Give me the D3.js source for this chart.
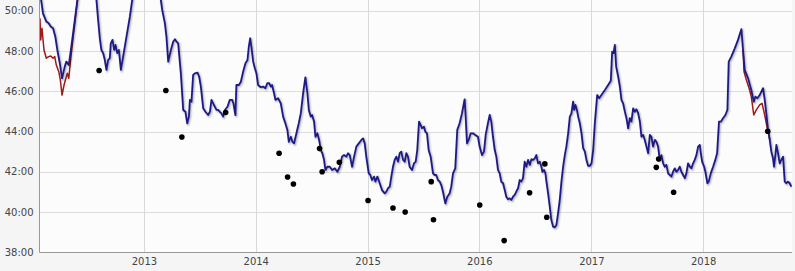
<!DOCTYPE html>
<html><head><meta charset="utf-8">
<script src="https://cdn.jsdelivr.net/npm/d3@7"></script>
<style>html,body{margin:0;padding:0;background:#f5f5f5;}svg{display:block;}</style>
</head><body><div id="chart"></div>
<script>
// decimal year, minutes
const bluePredicted = [
[2012.072,50.93],[2012.099,49.87],[2012.129,49.46],[2012.150,49.38],[2012.168,49.21],[2012.189,49.13],[2012.209,48.71],[2012.227,48.05],[2012.249,47.40],[2012.269,46.64],
[2012.293,47.22],[2012.307,47.47],[2012.329,47.30],[2012.352,48.21],[2012.383,49.54],[2012.406,50.53],[2012.484,52.77],[2012.576,50.53],[2012.591,49.54],[2012.606,48.63],
[2012.620,48.05],[2012.636,47.89],[2012.651,47.55],[2012.665,47.06],[2012.680,47.55],[2012.695,47.64],[2012.704,48.38],[2012.719,48.55],[2012.734,48.05],[2012.746,48.30],
[2012.761,47.89],[2012.776,48.05],[2012.794,47.06],[2012.814,47.72],[2012.844,48.71],[2012.874,49.70],[2012.895,50.53],[2013.020,53.02],[2013.151,50.53],[2013.163,50.04],
[2013.187,49.38],[2013.201,48.71],[2013.217,47.47],[2013.241,48.05],[2013.261,48.46],[2013.277,48.58],[2013.291,48.46],[2013.306,48.38],[2013.330,46.89],[2013.351,45.07],
[2013.371,44.98],[2013.387,44.41],[2013.402,44.74],[2013.411,45.57],[2013.425,45.48],[2013.440,46.81],[2013.455,46.89],[2013.479,46.92],[2013.494,46.72],[2013.509,46.23],
[2013.530,45.15],[2013.550,44.98],[2013.574,44.82],[2013.590,44.98],[2013.604,45.57],[2013.619,45.40],[2013.634,45.23],[2013.649,45.07],[2013.664,45.07],[2013.679,44.98],
[2013.693,44.90],[2013.708,44.74],[2013.724,45.07],[2013.747,45.23],[2013.768,45.57],[2013.789,45.57],[2013.800,45.40],[2013.818,44.82],[2013.827,46.31],[2013.849,46.31],
[2013.867,46.47],[2013.887,46.97],[2013.908,47.39],[2013.926,47.55],[2013.938,48.21],[2013.950,48.63],[2013.961,48.21],[2013.977,47.47],[2013.992,47.14],[2014.006,46.89],
[2014.021,46.31],[2014.045,46.20],[2014.066,46.23],[2014.086,46.15],[2014.104,46.40],[2014.120,46.40],[2014.135,46.23],[2014.146,46.31],[2014.164,45.90],[2014.176,45.57],
[2014.200,45.65],[2014.224,45.40],[2014.245,44.74],[2014.265,44.41],[2014.283,44.08],[2014.296,43.49],[2014.314,43.74],[2014.328,43.49],[2014.343,43.41],[2014.364,43.91],
[2014.385,44.41],[2014.403,44.90],[2014.424,45.90],[2014.444,46.69],[2014.462,45.90],[2014.475,45.07],[2014.492,44.74],[2014.504,44.82],[2014.522,44.49],[2014.534,43.74],
[2014.551,43.91],[2014.567,43.58],[2014.582,43.08],[2014.596,42.92],[2014.611,42.59],[2014.623,42.09],[2014.641,42.25],[2014.662,42.25],[2014.683,42.09],[2014.707,42.17],
[2014.730,42.00],[2014.752,42.25],[2014.772,42.75],[2014.790,42.83],[2014.811,42.75],[2014.826,42.92],[2014.841,42.83],[2014.862,42.25],[2014.880,42.75],[2014.900,43.25],
[2014.922,43.41],[2014.945,43.58],[2014.960,43.66],[2014.975,43.41],[2014.989,42.75],[2015.011,41.92],[2015.025,41.84],[2015.040,41.59],[2015.058,41.76],[2015.070,41.51],
[2015.088,41.76],[2015.109,41.43],[2015.130,41.09],[2015.154,40.93],[2015.168,41.01],[2015.183,41.18],[2015.199,41.26],[2015.213,41.76],[2015.228,42.25],[2015.243,42.59],
[2015.258,42.75],[2015.273,42.50],[2015.288,42.92],[2015.302,43.00],[2015.318,42.59],[2015.333,42.50],[2015.347,42.92],[2015.362,42.75],[2015.377,42.25],[2015.398,42.09],
[2015.416,42.42],[2015.431,42.50],[2015.445,43.08],[2015.461,44.49],[2015.476,44.32],[2015.487,44.16],[2015.505,44.24],[2015.517,43.99],[2015.532,43.91],[2015.547,43.08],
[2015.565,42.75],[2015.586,41.92],[2015.601,41.84],[2015.615,41.84],[2015.630,41.59],[2015.646,41.51],[2015.660,41.34],[2015.675,41.01],[2015.696,40.43],[2015.714,40.76],
[2015.735,40.93],[2015.749,41.26],[2015.765,41.92],[2015.785,42.17],[2015.803,44.08],[2015.824,44.41],[2015.845,44.90],[2015.869,45.60],[2015.878,44.74],[2015.890,43.41],
[2015.905,43.58],[2015.923,43.91],[2015.943,43.91],[2015.964,43.83],[2015.988,43.74],[2016.003,43.25],[2016.024,42.83],[2016.042,43.00],[2016.057,43.83],[2016.077,44.41],
[2016.093,44.82],[2016.107,44.49],[2016.122,43.74],[2016.138,43.08],[2016.152,42.75],[2016.167,42.09],[2016.182,41.92],[2016.196,41.51],[2016.212,41.43],[2016.227,41.09],
[2016.241,40.76],[2016.256,40.63],[2016.271,40.68],[2016.286,40.60],[2016.301,40.76],[2016.316,40.85],[2016.330,41.01],[2016.346,41.18],[2016.361,41.59],[2016.375,41.51],
[2016.390,41.68],[2016.405,42.50],[2016.420,42.25],[2016.435,42.59],[2016.450,42.34],[2016.465,42.62],[2016.480,42.59],[2016.495,42.67],[2016.509,42.83],[2016.524,42.42],
[2016.540,42.50],[2016.554,42.25],[2016.563,42.00],[2016.578,42.09],[2016.590,41.92],[2016.599,41.51],[2016.614,40.93],[2016.629,40.26],[2016.643,39.60],[2016.659,39.27],
[2016.674,39.24],[2016.688,39.36],[2016.703,39.94],[2016.718,40.60],[2016.733,41.51],[2016.748,42.25],[2016.763,42.83],[2016.777,43.25],[2016.793,43.91],[2016.808,44.74],
[2016.822,44.90],[2016.837,45.48],[2016.846,45.07],[2016.858,45.32],[2016.871,45.07],[2016.882,44.74],[2016.897,44.41],[2016.912,43.91],[2016.927,43.17],[2016.942,43.00],
[2016.956,42.59],[2016.971,42.30],[2016.987,42.30],[2017.001,42.42],[2017.016,43.08],[2017.031,44.41],[2017.052,45.81],[2017.070,45.65],[2017.090,45.81],[2017.121,46.06],
[2017.150,46.31],[2017.174,46.52],[2017.186,47.96],[2017.198,47.89],[2017.210,48.30],[2017.222,47.22],[2017.240,46.72],[2017.255,46.23],[2017.269,45.57],[2017.284,45.40],
[2017.300,44.98],[2017.314,44.66],[2017.329,44.16],[2017.344,44.66],[2017.358,44.49],[2017.374,45.15],[2017.389,44.98],[2017.403,45.10],[2017.418,44.92],[2017.434,44.49],
[2017.448,43.74],[2017.463,43.83],[2017.478,43.58],[2017.493,43.25],[2017.508,42.92],[2017.523,43.83],[2017.537,43.74],[2017.552,43.25],[2017.568,43.58],[2017.582,43.49],
[2017.597,43.25],[2017.612,42.59],[2017.627,42.83],[2017.642,42.42],[2017.657,42.25],[2017.671,42.34],[2017.687,41.92],[2017.702,41.84],[2017.716,41.76],[2017.731,42.00],
[2017.746,42.17],[2017.761,42.00],[2017.776,42.09],[2017.791,42.25],[2017.805,42.00],[2017.821,41.84],[2017.836,41.68],[2017.850,41.92],[2017.865,42.42],[2017.881,42.25],
[2017.895,42.17],[2017.910,42.42],[2017.925,42.59],[2017.940,42.83],[2017.955,43.25],[2017.970,43.33],[2017.979,42.92],[2017.991,42.50],[2018.009,42.25],[2018.020,42.00],
[2018.038,41.43],[2018.050,41.51],[2018.068,41.92],[2018.089,42.25],[2018.109,42.59],[2018.125,42.92],[2018.142,44.49],[2018.158,44.49],[2018.178,44.66],[2018.199,44.82],
[2018.217,45.07],[2018.229,47.47],[2018.252,47.72],[2018.283,48.13],[2018.312,48.55],[2018.342,49.08],[2018.357,48.05],[2018.372,47.06],[2018.402,46.64],[2018.431,46.06],
[2018.453,45.48],[2018.467,45.73],[2018.485,45.65],[2018.506,45.81],[2018.536,46.15],[2018.551,45.57],[2018.565,44.90],[2018.581,44.08],[2018.596,43.58],[2018.610,43.00],
[2018.625,42.67],[2018.634,42.25],[2018.646,42.83],[2018.655,43.33],[2018.670,42.92],[2018.685,42.42],[2018.699,42.59],[2018.715,42.75],[2018.730,41.51],[2018.744,41.43],
[2018.759,41.51],[2018.774,41.43],[2018.789,41.26]
];
const redEarly = [
[2012.072,49.62],[2012.079,48.55],[2012.090,49.13],[2012.108,48.05],[2012.129,47.64],[2012.150,47.72],[2012.168,47.75],[2012.189,47.64],[2012.204,47.72],[2012.218,47.30],
[2012.240,46.97],[2012.254,46.56],[2012.269,45.81],[2012.287,46.31],[2012.299,46.56],[2012.316,46.89],[2012.329,46.64],[2012.347,47.64],[2012.367,48.63],[2012.388,49.62],[2012.406,50.53]
];
const redLate = [
[2018.357,48.05],[2018.366,46.97],[2018.387,46.56],[2018.411,46.15],[2018.431,45.73],[2018.453,44.82],[2018.476,45.07],[2018.506,45.32],[2018.527,45.40],[2018.551,44.82],
[2018.574,44.16],[2018.581,44.08],[2018.596,43.58]
];
const raceYears = [2012.600,2013.196,2013.339,2013.731,2014.209,2014.285,2014.337,2014.571,2014.594,2014.748,2015.005,2015.228,2015.337,2015.570,2015.590,2016.004,2016.222,2016.449,2016.585,2016.602,2017.581,2017.602,2017.736,2018.578];
const raceMinutes = [47.03,46.04,43.73,44.94,42.92,41.74,41.39,43.15,42.00,42.47,40.57,40.20,40.00,41.51,39.62,40.35,38.58,40.96,42.39,39.74,42.22,42.63,40.98,44.01];
const yTicks = [38,40,42,44,46,48,50];
const xDomainYears = [2012.0724, 2018.7951];

const W = 795, H = 271;
const M = {left: 40, right: 3, top: 0, bottom: 19};
const toDate = t => { const y = Math.floor(t); const a = Date.UTC(y,0,1), b = Date.UTC(y+1,0,1); return new Date(a + (t-y)*(b-a)); };
const fmt = v => { const m = Math.floor(v); const s = Math.round((v-m)*60); return m + ":" + String(s).padStart(2,"0"); };

const svg = d3.select("#chart").append("svg").attr("width", W).attr("height", H);
svg.append("rect").attr("width", W).attr("height", H).attr("fill", "#f5f5f5");

const x = d3.scaleUtc().domain(xDomainYears.map(toDate)).range([M.left, W - M.right]);
const y = d3.scaleLinear().domain([38, 50]).range([252.3, 10.7]);
const plotBottom = y(38);

svg.append("rect").attr("x", M.left).attr("y", 0).attr("width", W - M.right - M.left).attr("height", plotBottom).attr("fill", "#fcfcfc");

// gridlines
const gy = svg.append("g").attr("class","grid-y");
gy.selectAll("line").data(yTicks.filter(d => d > 38)).join("line")
  .attr("x1", M.left).attr("x2", W - M.right)
  .attr("y1", d => Math.round(y(d)) + 0.5).attr("y2", d => Math.round(y(d)) + 0.5)
  .attr("stroke", "#dddddd").attr("stroke-width", 1);
const yearTicks = x.ticks(d3.utcYear.every(1));
const gx = svg.append("g").attr("class","grid-x");
gx.selectAll("line").data(yearTicks).join("line")
  .attr("x1", d => Math.round(x(d)) + 0.5).attr("x2", d => Math.round(x(d)) + 0.5)
  .attr("y1", 0).attr("y2", plotBottom)
  .attr("stroke", "#d8d8d8").attr("stroke-width", 1);

// axes
const yAxis = d3.axisLeft(y).tickValues(yTicks).tickFormat(fmt).tickSize(0).tickPadding(6);
const ga = svg.append("g").attr("transform", `translate(${M.left - 0.5},0)`).call(yAxis);
ga.select(".domain").remove();
ga.selectAll("text").attr("font-family", "'DejaVu Sans', Verdana, sans-serif").attr("font-size", 10).attr("fill", "#444");

const xAxis = d3.axisBottom(x).ticks(d3.utcYear.every(1)).tickFormat(d3.utcFormat("%Y")).tickSize(0).tickPadding(6);
const gb = svg.append("g").attr("transform", `translate(0,${Math.round(plotBottom)})`).call(xAxis);
gb.select(".domain").remove();
gb.selectAll("text").attr("font-family", "'DejaVu Sans', Verdana, sans-serif").attr("font-size", 10).attr("fill", "#444");

svg.append("line").attr("x1", M.left - 0.5).attr("x2", M.left - 0.5).attr("y1", 0).attr("y2", Math.round(plotBottom) + 0.5).attr("stroke", "#999");
svg.append("line").attr("x1", M.left - 0.5).attr("x2", W - M.right).attr("y1", Math.round(plotBottom) + 0.5).attr("y2", Math.round(plotBottom) + 0.5).attr("stroke", "#999");

// lines
const clip = svg.append("clipPath").attr("id", "plotclip").append("rect")
  .attr("x", M.left).attr("y", 0).attr("width", W - M.right - M.left).attr("height", plotBottom);
const plot = svg.append("g").attr("clip-path", "url(#plotclip)");
const line = d3.line().x(d => x(toDate(d[0]))).y(d => y(d[1]));

[redEarly, redLate].forEach(seg => {
  plot.append("path").attr("d", line(seg)).attr("fill", "none").attr("stroke", "#a01818").attr("stroke-width", 1.5).attr("stroke-linejoin", "round");
});
// shadow
[[5,0.05],[3,0.1],[1,0.15]].forEach(([w,o]) => {
  plot.append("path").attr("d", line(bluePredicted)).attr("fill", "none").attr("stroke", "#000")
    .attr("stroke-opacity", o).attr("stroke-width", w).attr("transform", "translate(1,1)").attr("stroke-linejoin", "round");
});
plot.append("path").attr("d", line(bluePredicted)).attr("fill", "none").attr("stroke", "#1d1a87").attr("stroke-width", 1.8).attr("stroke-linejoin", "round");

plot.selectAll("circle").data(raceYears.map((t,i) => [t, raceMinutes[i]])).join("circle")
  .attr("cx", d => x(toDate(d[0]))).attr("cy", d => y(d[1])).attr("r", 2.8).attr("fill", "#000");
</script></body></html>
